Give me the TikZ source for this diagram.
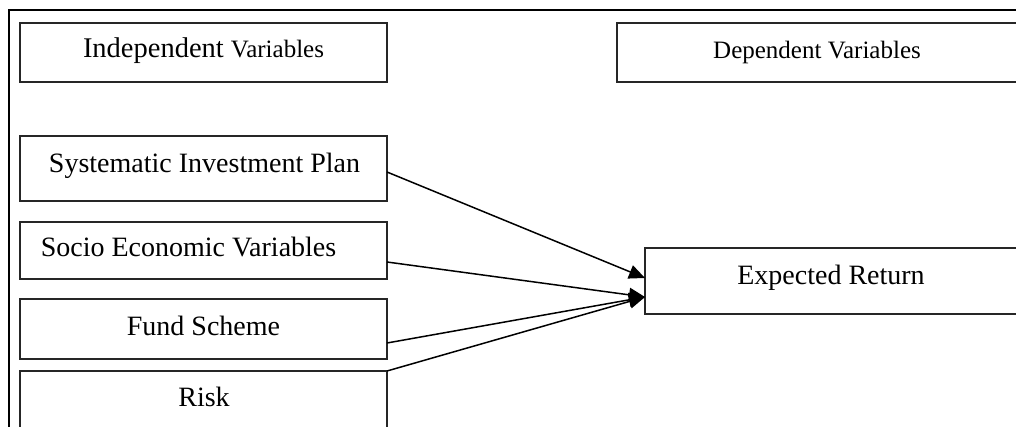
\documentclass[tikz,border=0pt]{standalone}
\usepackage{fontspec}
\setmainfont{Liberation Serif}
\usetikzlibrary{arrows.meta,calc}
\begin{document}
\begin{tikzpicture}[x=1pt,y=-1pt,
  box/.style={draw=black!85,line width=1.3pt,rectangle,inner sep=0pt,outer sep=0pt},
  txt/.style={anchor=base,inner sep=0pt,font=\fontsize{28}{32}\selectfont},
  conn/.style={line width=1.5pt,-{Triangle[length=16pt,width=14pt]}},
  frame/.style={line width=1.1pt}]
\useasboundingbox (0,0) rectangle (1016,427);
\clip (0,0) rectangle (1016,427);
\fill[white] (0,0) rectangle (1016,427);
% outer frame
\coordinate (ftl) at (9,10);
\coordinate (ftr) at (1020,10);
\coordinate (fbl) at (9,440);
\draw[frame] (ftr) -- (ftl) -- (fbl);
% boxes
\node[box,minimum width=367pt,minimum height=59pt] (ind) at (203.5,52.5) {};
\node[box,minimum width=403pt,minimum height=59pt] (dep) at (818.5,52.5) {};
\node[box,minimum width=367pt,minimum height=65pt] (sip) at (203.5,168.5) {};
\node[box,minimum width=367pt,minimum height=57pt] (soc) at (203.5,250.5) {};
\node[box,minimum width=367pt,minimum height=60pt] (fund) at (203.5,329) {};
\node[box,minimum width=367pt,minimum height=69pt] (risk) at (203.5,405.5) {};
\node[box,minimum width=375pt,minimum height=66pt] (exp) at (832.5,281) {};
% texts
\node[txt] (tind) at (203.5,58) {\fontsize{28.5}{32}\selectfont Independent \fontsize{25}{30}\selectfont Variables};
\node[txt,font=\fontsize{25}{30}\selectfont] (tdep) at (817,58.3) {Dependent Variables};
\node[txt] (tsip) at (204.5,173) {Systematic Investment Plan};
\node[txt] (tsoc) at (188.5,257) {Socio Economic Variables};
\node[txt] (tfund) at (203.5,335) {Fund Scheme};
\node[txt] (trisk) at (204,406) {Risk};
\node[txt] (texp) at (831,284) {Expected Return};
% connectors
\draw[conn] ($(sip.north east)+(0,36)$) -- ($(exp.west)+(0,-3)$);
\draw[conn] ($(soc.north east)+(0,40)$) -- ($(exp.south west)+(0,-17)$);
\draw[conn] ($(fund.north east)+(0,44)$) -- ($(exp.south west)+(0,-17)$);
\draw[conn] (risk.north east) -- ($(exp.south west)+(0,-17)$);
\end{tikzpicture}
\end{document}
